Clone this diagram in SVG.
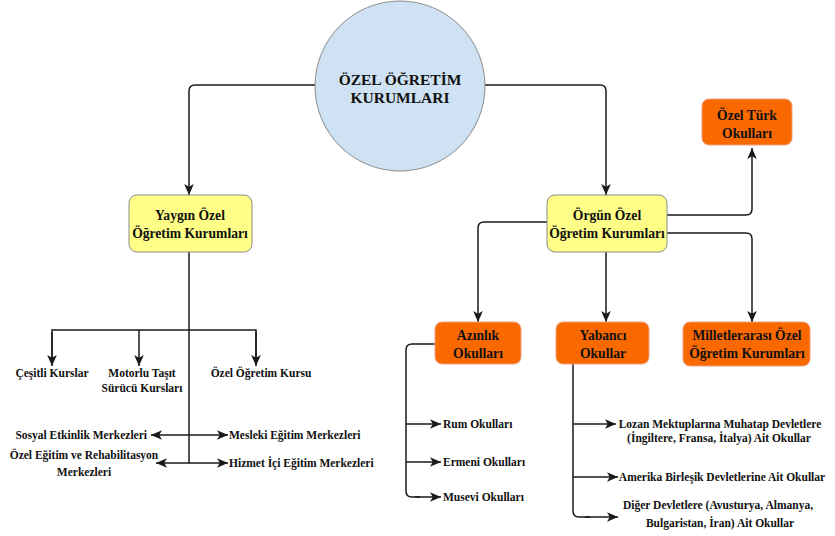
<svg xmlns="http://www.w3.org/2000/svg" width="835" height="536" viewBox="0 0 835 536">
<style>
  text { font-family: "Liberation Serif", "Times New Roman", serif; font-weight: bold; fill: #111; }
  .t11 { font-size: 11.5px; }
  .t13 { font-size: 13.6px; text-anchor: middle; }
  .c { text-anchor: middle; }
  .s { text-anchor: start; }
  .e { text-anchor: end; }
  .yel { fill: #ffff88; stroke: #8c8c8c; stroke-width: 1; }
  .org { fill: #fa6800; stroke: #f0a080; stroke-width: 1; }
  .ln { fill: none; stroke: #1a1a1a; stroke-width: 1.5; }
  .ar { marker-end: url(#arr); }
</style>
<defs>
  <marker id="arr" markerUnits="userSpaceOnUse" markerWidth="11" markerHeight="11" viewBox="0 0 10 10" refX="10" refY="5" orient="auto">
    <path d="M0,0.6 L10,5 L0,9.4 L2.5,5 Z" fill="#1a1a1a"/>
  </marker>
</defs>
<rect width="835" height="536" fill="#ffffff"/>

<g id="connectors">
  <path class="ln ar" d="M316,85 L195,85 Q189,85 189,91 L189,195"/>
  <path class="ln ar" d="M484,85 L600,85 Q606,85 606,91 L606,195"/>
  <path class="ln" d="M189,252 L189,463"/>
  <path class="ln" d="M52,364 L52,330 L256,330 L256,364"/>
  <path class="ln ar" d="M52,332 L52,366"/>
  <path class="ln ar" d="M139,330 L139,366"/>
  <path class="ln ar" d="M256,332 L256,366"/>
  <path class="ln ar" d="M189,435 L151,435"/>
  <path class="ln ar" d="M189,435 L228,435"/>
  <path class="ln ar" d="M189,463 L156,463"/>
  <path class="ln ar" d="M189,463 L228,463"/>
  <path class="ln ar" d="M667,215 L746,215 Q752,215 752,209 L752,148"/>
  <path class="ln ar" d="M667,233 L746,233 Q752,233 752,239 L752,322"/>
  <path class="ln ar" d="M547,222 L484,222 Q478,222 478,228 L478,322"/>
  <path class="ln ar" d="M606,252 L606,322"/>
  <path class="ln" d="M435,344 L412,344 Q406,344 406,350 L406,491 Q406,497 412,497 L420,497"/>
  <path class="ln ar" d="M406,424 L441,424"/>
  <path class="ln ar" d="M406,462 L441,462"/>
  <path class="ln ar" d="M415,497 L441,497"/>
  <path class="ln" d="M573,364 L573,511 Q573,517 579,517 L590,517"/>
  <path class="ln ar" d="M573,424 L616,424"/>
  <path class="ln ar" d="M573,477 L618,477"/>
  <path class="ln ar" d="M585,517 L618,517"/>
</g>

<g id="root">
  <circle cx="400" cy="86" r="85" fill="#cfe2f3" stroke="#8c8c8c" stroke-width="1"/>
  <text x="400" y="85" class="c" font-size="15.5">ÖZEL ÖĞRETİM</text>
  <text x="400" y="103" class="c" font-size="15.5">KURUMLARI</text>
</g>

<g id="yaygin">
  <rect class="yel" x="129" y="195" width="123" height="57" rx="8"/>
  <text class="t13" x="190" y="220">Yaygın Özel</text>
  <text class="t13" x="190" y="238">Öğretim Kurumları</text>
</g>

<g id="orgun">
  <rect class="yel" x="547" y="195" width="120" height="57" rx="8"/>
  <text class="t13" x="607" y="220">Örgün Özel</text>
  <text class="t13" x="607" y="238">Öğretim Kurumları</text>
</g>

<g id="ozelturk">
  <rect class="org" x="702" y="99" width="90" height="46" rx="7"/>
  <text class="t13" x="747" y="120">Özel Türk</text>
  <text class="t13" x="747" y="138">Okulları</text>
</g>

<g id="azinlik">
  <rect class="org" x="435" y="322" width="86" height="42" rx="7"/>
  <text class="t13" x="478" y="340">Azınlık</text>
  <text class="t13" x="478" y="358">Okulları</text>
</g>

<g id="yabanci">
  <rect class="org" x="556" y="322" width="93" height="42" rx="7"/>
  <text class="t13" x="603" y="340">Yabancı</text>
  <text class="t13" x="603" y="358">Okullar</text>
</g>

<g id="milletlerarasi">
  <rect class="org" x="683" y="322" width="127" height="44" rx="7"/>
  <text class="t13" x="747" y="340">Milletlerarası Özel</text>
  <text class="t13" x="747" y="358">Öğretim Kurumları</text>
</g>

<g id="cesitli"><text class="t11 c" x="52" y="377">Çeşitli Kurslar</text></g>
<g id="motorlu">
  <text class="t11 c" x="142" y="377">Motorlu Taşıt</text>
  <text class="t11 c" x="142" y="392">Sürücü Kursları</text>
</g>
<g id="ozelkurs"><text class="t11 c" x="261" y="377">Özel Öğretim Kursu</text></g>
<g id="sosyal"><text class="t11 e" x="147" y="439">Sosyal Etkinlik Merkezleri</text></g>
<g id="mesleki"><text class="t11 s" x="229" y="439">Mesleki Eğitim Merkezleri</text></g>
<g id="ozelegitim">
  <text class="t11 c" x="84" y="459">Özel Eğitim ve Rehabilitasyon</text>
  <text class="t11 c" x="84" y="476">Merkezleri</text>
</g>
<g id="hizmet"><text class="t11 s" x="229" y="467">Hizmet İçi Eğitim Merkezleri</text></g>

<g id="rum"><text class="t11 s" x="443" y="428">Rum Okulları</text></g>
<g id="ermeni"><text class="t11 s" x="443" y="466">Ermeni Okulları</text></g>
<g id="musevi"><text class="t11 s" x="443" y="501">Musevi Okulları</text></g>

<g id="lozan">
  <text class="t11 c" x="720" y="428">Lozan Mektuplarına Muhatap Devletlere</text>
  <text class="t11 c" x="719" y="442">(İngiltere, Fransa, İtalya) Ait Okullar</text>
</g>
<g id="amerika"><text class="t11 c" x="722" y="481">Amerika Birleşik Devletlerine Ait Okullar</text></g>
<g id="diger">
  <text class="t11 c" x="718" y="509">Diğer Devletlere (Avusturya, Almanya,</text>
  <text class="t11 c" x="720" y="527">Bulgaristan, İran) Ait Okullar</text>
</g>
</svg>
